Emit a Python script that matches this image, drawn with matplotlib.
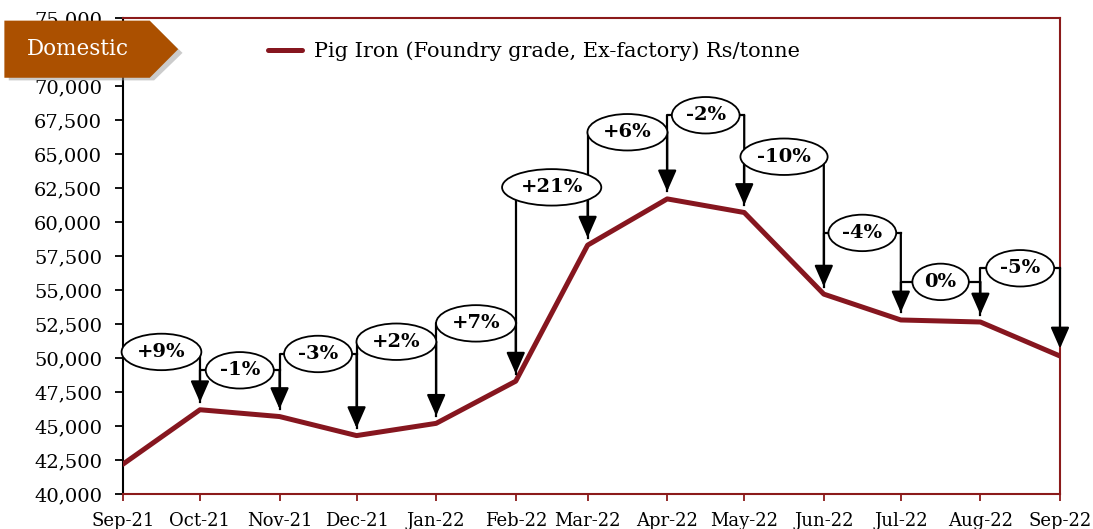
import numpy as np
import matplotlib
matplotlib.use("Agg")
import matplotlib.pyplot as plt
from matplotlib.patches import Polygon

months = ["Sep-21", "Oct-21", "Nov-21", "Dec-21", "Jan-22", "Feb-22", "Mar-22",
          "Apr-22", "May-22", "Jun-22", "Jul-22", "Aug-22", "Sep-22"]
dates = ["2021-09-01", "2021-10-01", "2021-11-01", "2021-12-01", "2022-01-01",
         "2022-02-01", "2022-03-01", "2022-04-01", "2022-05-01", "2022-06-01",
         "2022-07-01", "2022-08-01", "2022-09-01"]
prices = [42200, 46200, 45700, 44300, 45200, 48300, 58300,
          61700, 60700, 54700, 52800, 52650, 50150]
changes = ["+9%", "-1%", "-3%", "+2%", "+7%", "+21%", "+6%",
           "-2%", "-10%", "-4%", "0%", "-5%"]
label_levels = [50450, 49100, 50300, 51200, 52550, 62550, 66600,
                67850, 64800, 59200, 55600, 56600]
yticks = list(range(40000, 75001, 2500))

line_color = "#86161f"
spine_color = "#8b1a1a"
tag_color = "#ab5000"
serif = "DejaVu Serif"

days = (np.array(dates, dtype="datetime64[D]")
        - np.datetime64(dates[0], "D")).astype(float)

fig = plt.figure(figsize=(10.93, 5.29), dpi=100)
ax = fig.add_axes([0.1125, 0.066, 0.8573, 0.9])

ax.plot(days, prices, color=line_color, lw=3.6, zorder=3,
        label="Pig Iron (Foundry grade, Ex-factory) Rs/tonne",
        solid_capstyle="round")

ax.set_xlim(days[0], days[-1])
ax.set_ylim(40000, 75000)
ax.set_yticks(yticks)
ax.set_yticklabels([f"{v:,}" for v in yticks], fontfamily=serif, fontsize=14)
ax.set_xticks(days)
ax.set_xticklabels(months, fontfamily=serif, fontsize=13)

for s in ["top", "right", "bottom"]:
    ax.spines[s].set_color(spine_color)
    ax.spines[s].set_linewidth(1.5)
ax.spines["left"].set_color("black")
ax.spines["left"].set_linewidth(1.5)
ax.tick_params(axis="y", direction="out", length=6, width=1.3, color="black", pad=9)
ax.tick_params(axis="x", direction="out", length=5, width=1.3, color=spine_color, pad=8)

tip_gap = 550
for i, (txt, lvl) in enumerate(zip(changes, label_levels)):
    x0, x1 = days[i], days[i + 1]
    prev_tip = prices[i] + tip_gap
    # elbow: up from previous point, across, then down to the next point
    ax.plot([x0, x0, x1], [prev_tip if i > 0 else lvl, lvl, lvl],
            color="black", lw=1.6, zorder=4, clip_on=False)
    ax.annotate("", xy=(x1, prices[i + 1] + tip_gap), xytext=(x1, lvl),
                arrowprops=dict(arrowstyle="-|>,head_length=0.5,head_width=0.22",
                                color="black", lw=1.6, mutation_scale=26,
                                shrinkA=0, shrinkB=0),
                zorder=4, annotation_clip=False)
    ax.text((x0 + x1) / 2, lvl, txt, ha="center", va="center",
            fontfamily=serif, fontweight="bold", fontsize=14, zorder=6,
            bbox=dict(boxstyle="ellipse,pad=0.2", fc="white", ec="black", lw=1.3))

leg = ax.legend(loc="upper center", bbox_to_anchor=(0.439, 0.99), frameon=False,
                prop={"family": serif, "size": 15}, handlelength=1.6,
                handletextpad=0.6)

# "Domestic" tag in the top left corner
shadow = Polygon([[0.008, 0.848], [0.141, 0.848], [0.167, 0.900],
                  [0.141, 0.952], [0.008, 0.952]],
                 closed=True, fc="#999999", ec="none", alpha=0.5, zorder=9)
shadow.set_transform(fig.transFigure)
tag = Polygon([[0.004, 0.853], [0.137, 0.853], [0.163, 0.907],
               [0.137, 0.961], [0.004, 0.961]],
              closed=True, fc=tag_color, ec="none", zorder=10)
tag.set_transform(fig.transFigure)
fig.patches.extend([shadow, tag])
fig.text(0.071, 0.907, "Domestic", color="white", fontfamily=serif,
         fontsize=15.5, ha="center", va="center", zorder=11)

fig.savefig("out.png", dpi=100)
